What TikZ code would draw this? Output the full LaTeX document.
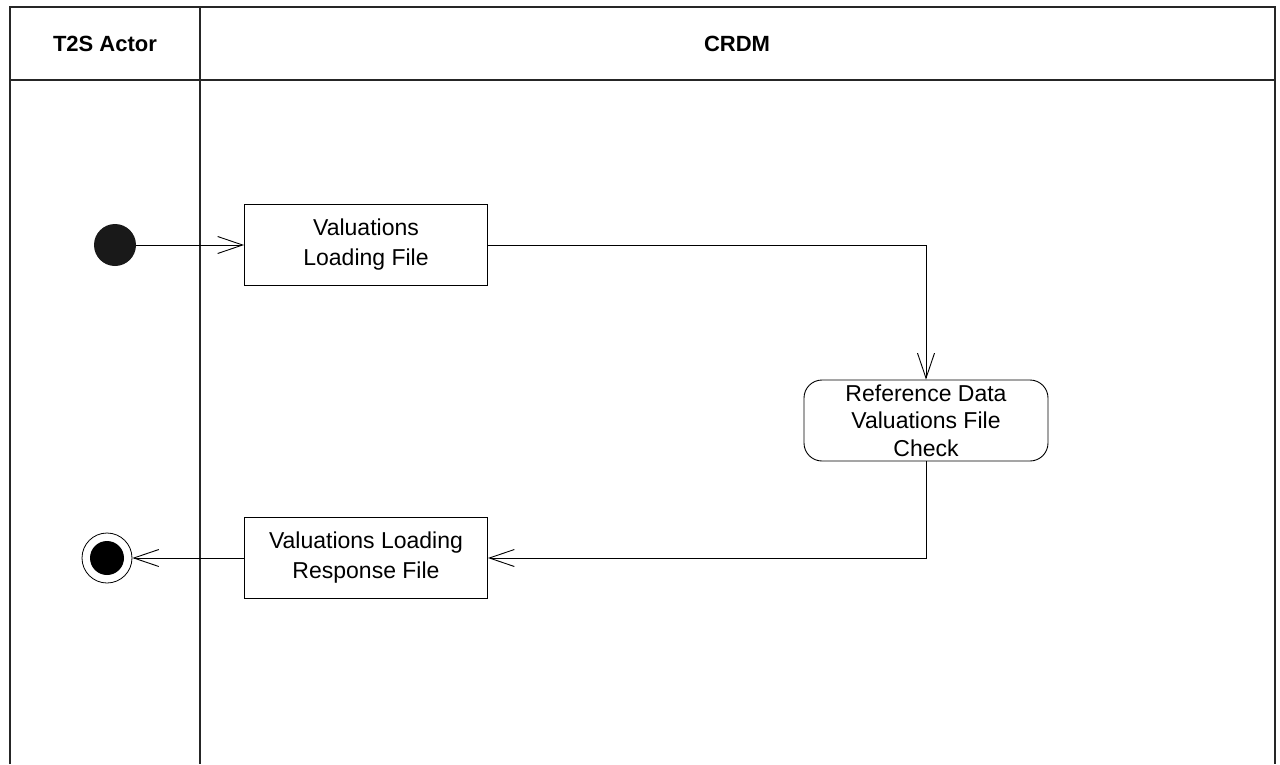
\documentclass[tikz,border=0pt]{standalone}
\usepackage{fontspec}
\setmainfont{Liberation Sans}
\usepackage{tikz}
\usetikzlibrary{arrows.meta, positioning, calc}
\tikzset{
  action/.style={rectangle, draw=black, line width=0.9pt, fill=white,
                 minimum width=243pt, minimum height=81pt, align=center,
                 inner sep=0pt, font=\fontsize{23}{30}\selectfont},
  activity/.style={action, rounded corners=18pt, minimum width=244pt,
                   font=\fontsize{23}{27.5}\selectfont},
  flow/.style={-{Straight Barb[length=25pt, width=17pt, line width=0.9pt]},
               line width=0.9pt, draw=black},
  lanehead/.style={font=\fontsize{22}{26}\selectfont\bfseries},
}

\begin{document}
\begin{tikzpicture}[
  x=1pt, y=-1pt,
  initial/.style={circle, fill=black!90, minimum size=42pt, inner sep=0pt},
  final/.style={circle, draw=black, line width=0.8pt, minimum size=50pt,
                inner sep=0pt, fill=white,
                path picture={\fill[black] (path picture bounding box.center)
                              circle (17pt);}},
  lane/.style={draw=black!85, line width=1.3pt},
]
  \useasboundingbox (0,0) rectangle (1280,764);

  %% ── SWIMLANES ────────────────────────────────────────────────────────────
  \draw[lane] (10,764) -- (10,7) -- (1275,7) -- (1275,764);
  \draw[lane] (10,80) -- (1275,80);
  \draw[lane] (200,7) -- (200,764);
  \node[lanehead] (actor) at (105,44)  {T2S Actor};
  \node[lanehead] (crdm)  at (737,44)  {CRDM};

  %% ── NODES ────────────────────────────────────────────────────────────────
  \node[initial]  (start) at (115,245)   {};
  \node[action]   (load)  at (366,245)   {Valuations\\Loading File};
  \node[activity] (check) at (926,420.5) {Reference Data\\Valuations File\\Check};
  \node[action]   (resp)  at (366,558)   {Valuations Loading\\Response File};
  \node[final]    (stop)  at (107,558)   {};

  %% ── FLOWS ────────────────────────────────────────────────────────────────
  \draw[flow] (start) -- (load);
  \draw[flow] (load.east) -| (check.north);
  \draw[flow] (check.south) |- (resp.east);
  \draw[flow] (resp) -- (stop);

\end{tikzpicture}
\end{document}
